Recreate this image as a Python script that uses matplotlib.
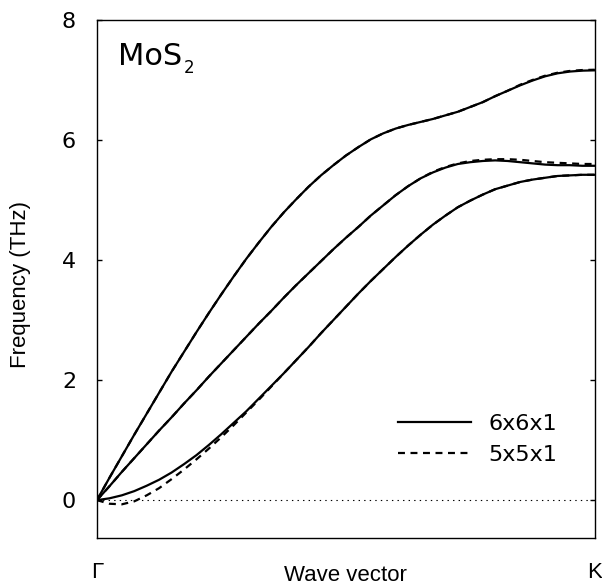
import matplotlib
matplotlib.use("Agg")
import matplotlib.pyplot as plt

# wave vector path from Gamma (0) to K (1), step 0.025
q = [i / 40 for i in range(41)]

# 6x6x1 supercell (THz)
la_6 = [0.00, 0.37, 0.73, 1.09, 1.44, 1.79, 2.14, 2.47, 2.80, 3.12, 3.43,
        3.73, 4.02, 4.29, 4.55, 4.79, 5.01, 5.22, 5.41, 5.58, 5.74,
        5.88, 6.01, 6.11, 6.19, 6.25, 6.30, 6.35, 6.41, 6.47, 6.55,
        6.63, 6.73, 6.82, 6.91, 6.99, 7.06, 7.11, 7.14, 7.155, 7.16]
ta_6 = [0.00, 0.23, 0.47, 0.70, 0.93, 1.16, 1.38, 1.61, 1.83, 2.06, 2.28,
        2.50, 2.72, 2.94, 3.15, 3.37, 3.58, 3.78, 3.98, 4.18, 4.37,
        4.55, 4.74, 4.91, 5.08, 5.23, 5.36, 5.46, 5.54, 5.60, 5.63,
        5.65, 5.66, 5.65, 5.63, 5.61, 5.59, 5.58, 5.58, 5.57, 5.57]
za_6 = [0.00, 0.03, 0.08, 0.15, 0.24, 0.34, 0.46, 0.60, 0.75, 0.92, 1.10,
        1.29, 1.48, 1.69, 1.90, 2.11, 2.33, 2.55, 2.78, 3.00, 3.22,
        3.44, 3.65, 3.85, 4.05, 4.24, 4.42, 4.59, 4.74, 4.88, 4.99,
        5.09, 5.18, 5.24, 5.30, 5.34, 5.37, 5.40, 5.41, 5.42, 5.42]

# 5x5x1 supercell (THz)
la_5 = [0.00, 0.37, 0.73, 1.09, 1.44, 1.79, 2.14, 2.47, 2.80, 3.12, 3.43,
        3.73, 4.02, 4.29, 4.55, 4.79, 5.01, 5.22, 5.41, 5.58, 5.74,
        5.88, 6.01, 6.11, 6.19, 6.25, 6.30, 6.35, 6.41, 6.47, 6.55,
        6.63, 6.73, 6.82, 6.92, 7.00, 7.07, 7.12, 7.15, 7.165, 7.17]
ta_5 = [0.00, 0.23, 0.47, 0.70, 0.93, 1.16, 1.38, 1.61, 1.83, 2.06, 2.28,
        2.50, 2.72, 2.94, 3.15, 3.37, 3.58, 3.78, 3.98, 4.18, 4.37,
        4.55, 4.74, 4.91, 5.08, 5.23, 5.36, 5.47, 5.55, 5.61, 5.65,
        5.67, 5.68, 5.68, 5.67, 5.65, 5.63, 5.62, 5.61, 5.60, 5.60]
za_5 = [0.00, -0.06, -0.07, -0.02, 0.08, 0.20, 0.35, 0.51, 0.68, 0.86, 1.05,
        1.25, 1.46, 1.67, 1.89, 2.11, 2.33, 2.55, 2.78, 3.00, 3.22,
        3.44, 3.65, 3.85, 4.05, 4.24, 4.42, 4.59, 4.74, 4.88, 4.99,
        5.09, 5.18, 5.24, 5.30, 5.34, 5.37, 5.40, 5.41, 5.42, 5.42]

kpt_pos = [0.0, 1.0]
kpt_labels = ["Γ", "K"]
yticks = [0, 2, 4, 6, 8]

plt.rcParams["lines.scale_dashes"] = False

fig = plt.figure(figsize=(6.02, 5.86), dpi=100)
ax = fig.add_axes([0.161, 0.082, 0.827, 0.884])

lw = 1.6
for i, (b6, b5) in enumerate([(la_6, la_5), (ta_6, ta_5), (za_6, za_5)]):
    ax.plot(q, b6, color="black", lw=lw, label="6x6x1" if i == 0 else None)
    ax.plot(q, b5, color="black", lw=lw, dashes=(5, 4),
            label="5x5x1" if i == 0 else None)

ax.plot([0, 1], [0, 0], color="black", lw=0.8, ls=(0, (1, 3)))

ax.set_xlim(0, 1)
ax.set_ylim(-0.63, 8)
ax.set_yticks(yticks)
ax.set_xticks(kpt_pos)
ax.set_xticklabels(kpt_labels, family="Liberation Sans", fontsize=16)
ax.tick_params(axis="y", direction="in", length=3.6, width=1.0,
               left=True, right=True, labelsize=16, pad=15)
ax.tick_params(axis="x", length=0, pad=17)
for s in ax.spines.values():
    s.set_linewidth(1.0)

ax.set_xlabel("Wave vector", family="Liberation Sans", fontsize=16)
ax.set_ylabel("Frequency (THz)", family="Liberation Sans", fontsize=16)
ax.xaxis.set_label_coords(0.5, -0.052)
ax.yaxis.set_label_coords(-0.132, 0.49)

t = ax.text(0.042, 0.913, "MoS", transform=ax.transAxes, fontsize=22,
            va="baseline", ha="left")
ax.annotate("2", xy=(1, 0), xycoords=t, xytext=(1, -4),
            textcoords="offset points", fontsize=12, va="bottom", ha="left")

ax.legend(loc="upper left", bbox_to_anchor=(0.604, 0.24), frameon=False,
          fontsize=16, handlelength=3.3, handletextpad=0.8, borderpad=0,
          borderaxespad=0, labelspacing=0.5)

fig.savefig("out.png", dpi=100)
